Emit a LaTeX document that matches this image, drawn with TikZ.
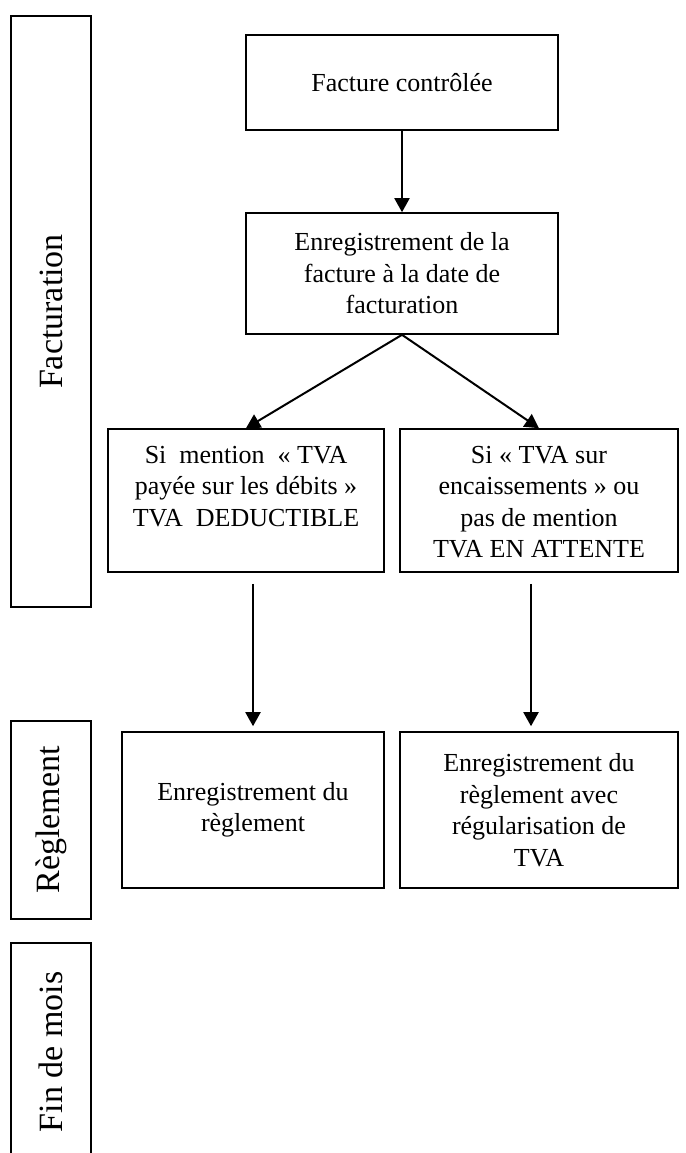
\documentclass[tikz,border=0pt]{standalone}
\usepackage{fontspec}
\setmainfont{Liberation Serif}
\usetikzlibrary{arrows.meta,positioning}
\tikzstyle{box} = [draw,line width=1.6pt,inner sep=0pt,align=center,font=\fontsize{26}{31.5}\selectfont]
\tikzstyle{phase} = [draw,line width=1.6pt,rotate=90,inner sep=0pt,minimum height=80pt,font=\fontsize{34}{40}\selectfont]
\tikzstyle{arrow} = [line width=2pt,-{Triangle[width=15pt,length=14pt]}]

\begin{document}
\begin{tikzpicture}[x=1pt,y=-1pt]
\clip (0,0) rectangle (685,1153);

% Phases on the left
\node[phase,minimum width=591pt] (facturation) at (51,311.5) {Facturation};
\node[phase,minimum width=198pt] (reglement) at (51,820) {Règlement};
\node[phase,minimum width=218pt] (findemois) at (51,1052) {Fin de mois};

% Boxes
\node[box,minimum width=312pt,minimum height=95pt] (facture) at (402,82.5) {Facture contrôlée};
\node[box,minimum width=312pt,minimum height=121pt] (enreg) at (402,273.5) {Enregistrement de la\\facture à la date de\\facturation};
\node[box,minimum width=276pt,minimum height=143pt] (debits) at (246,500.5)
  {\parbox[c][143pt][t]{270pt}{\centering\vspace*{17pt}Si~ mention~ «~TVA\\payée sur les débits~»\\TVA~ DEDUCTIBLE}};
\node[box,minimum width=278pt,minimum height=143pt] (encaiss) at (539,500.5)
  {\parbox[c][143pt][t]{270pt}{\centering\vspace*{17pt}Si «~TVA sur\\encaissements~» ou\\pas de mention\\TVA EN ATTENTE}};
\node[box,minimum width=262pt,minimum height=156pt] (reg1) at (253,810) {Enregistrement du\\règlement};
\node[box,minimum width=278pt,minimum height=156pt] (reg2) at (539,810) {Enregistrement du\\règlement avec\\régularisation de\\TVA};

% Arrows
\draw[arrow] (facture) -- (enreg);
\draw[arrow] (enreg.south) -- (debits.north);
\draw[arrow] (enreg.south) -- (encaiss.north);
\draw[arrow,shorten <=11pt,shorten >=5pt] (reg1.north |- debits.south) -- (reg1.north);
\draw[arrow,shorten <=11pt,shorten >=5pt] ([xshift=-8pt]encaiss.south) -- ([xshift=-8pt]reg2.north);
\end{tikzpicture}
\end{document}
